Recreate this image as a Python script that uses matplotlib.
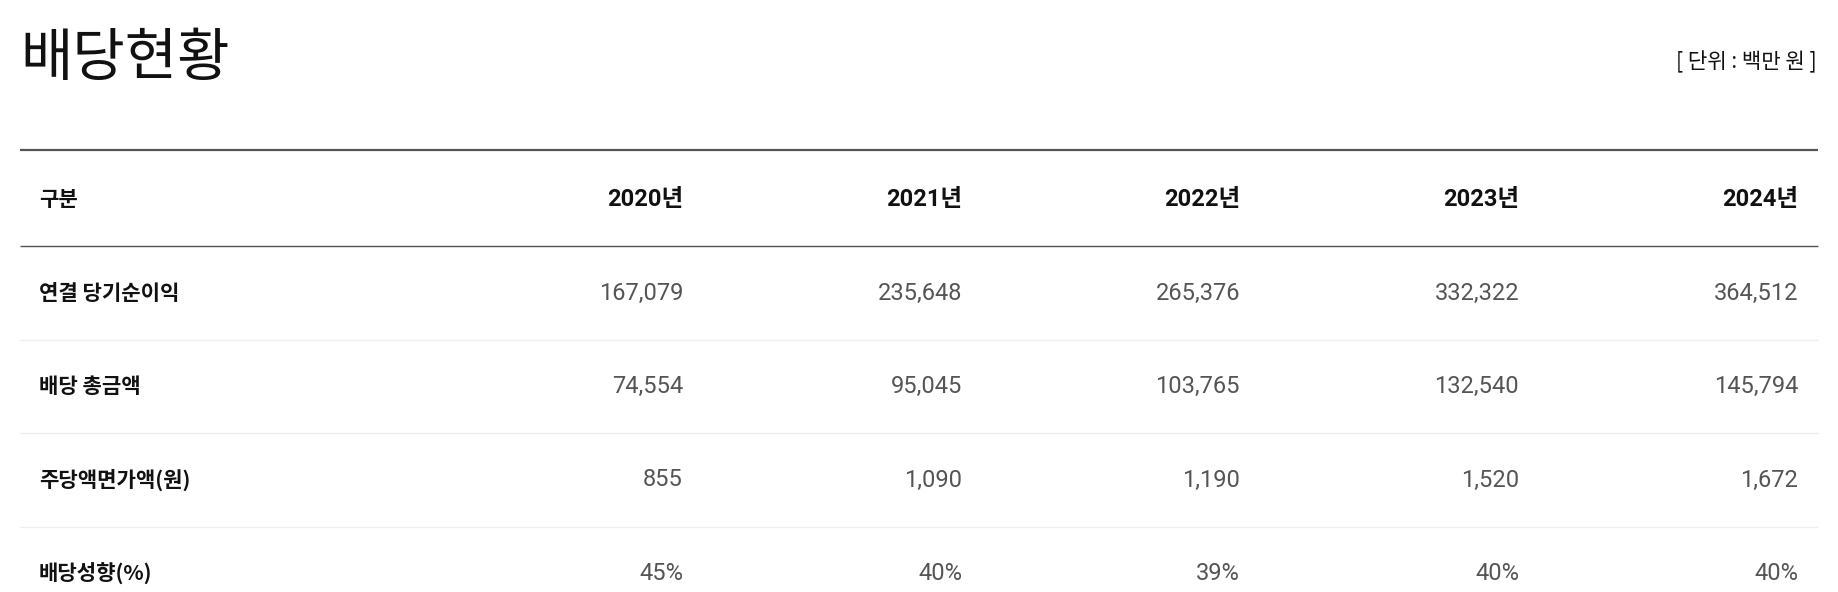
import matplotlib
matplotlib.use('Agg')
from matplotlib import pyplot as plt

plt.rcParams['font.family'] = ['Noto Sans CJK KR', 'DejaVu Sans']

title = '배당현황'
unit_note = '[ 단위 : 백만 원 ]'
header_label = '구분'
years = ['2020년', '2021년', '2022년', '2023년', '2024년']
row_labels = ['연결 당기순이익', '배당 총금액', '주당액면가액(원)', '배당성향(%)']

net_income = [167079, 235648, 265376, 332322, 364512]
total_dividend = [74554, 95045, 103765, 132540, 145794]
dividend_per_share = [855, 1090, 1190, 1520, 1672]
payout_ratio = [45, 40, 39, 40, 40]

KR = ['Noto Sans CJK KR', 'DejaVu Sans']
NUM = ['Roboto', 'Noto Sans CJK KR', 'DejaVu Sans']


def fmt_rows():
    rows = [
        [f'{v:,}' for v in net_income],
        [f'{v:,}' for v in total_dividend],
        [f'{v:,}' for v in dividend_per_share],
        [f'{v}%' for v in payout_ratio],
    ]
    return rows


def main():
    W, H = 1838, 592
    fig = plt.figure(figsize=(W / 100, H / 100), dpi=100)
    ax = fig.add_axes([0, 0, 1, 1])
    ax.set_xlim(0, W)
    ax.set_ylim(H, 0)
    ax.axis('off')

    left, right = 20, 1818
    pad = 19
    col_right = [683, 962, 1240, 1519, 1798]
    header_y = 199
    row_h = 93.5
    first_row_y = 293

    ax.text(left, 59, title, fontsize=41, color='#111111',
            ha='left', va='center', family=KR)
    ax.text(right - 1, 62, unit_note, fontsize=15.2, color='#111111',
            ha='right', va='center', family=KR)

    # rules
    ax.hlines(150, left, right, color='#555555', linewidth=1.6)
    ax.hlines(246, left, right, color='#555555', linewidth=1.0)
    for i in range(1, len(row_labels)):
        y = first_row_y + row_h * (i - 0.5)
        ax.hlines(y, left, right, color='#eeeeee', linewidth=1.0)

    # header
    ax.text(left + pad, header_y, header_label, fontsize=15.2, fontweight='bold',
            color='#111111', ha='left', va='center', family=KR)
    for x, yr in zip(col_right, years):
        ax.text(x, header_y, yr, fontsize=17, fontweight='bold',
                color='#111111', ha='right', va='center', family=NUM)

    # body
    for i, (label, vals) in enumerate(zip(row_labels, fmt_rows())):
        y = first_row_y + row_h * i
        ax.text(left + pad, y, label, fontsize=15.2, fontweight='bold',
                color='#111111', ha='left', va='center', family=KR)
        for x, v in zip(col_right, vals):
            ax.text(x, y, v, fontsize=17, color='#555555',
                    ha='right', va='center', family=NUM)

    fig.savefig('out.png', dpi=100)


if __name__ == '__main__':
    main()
